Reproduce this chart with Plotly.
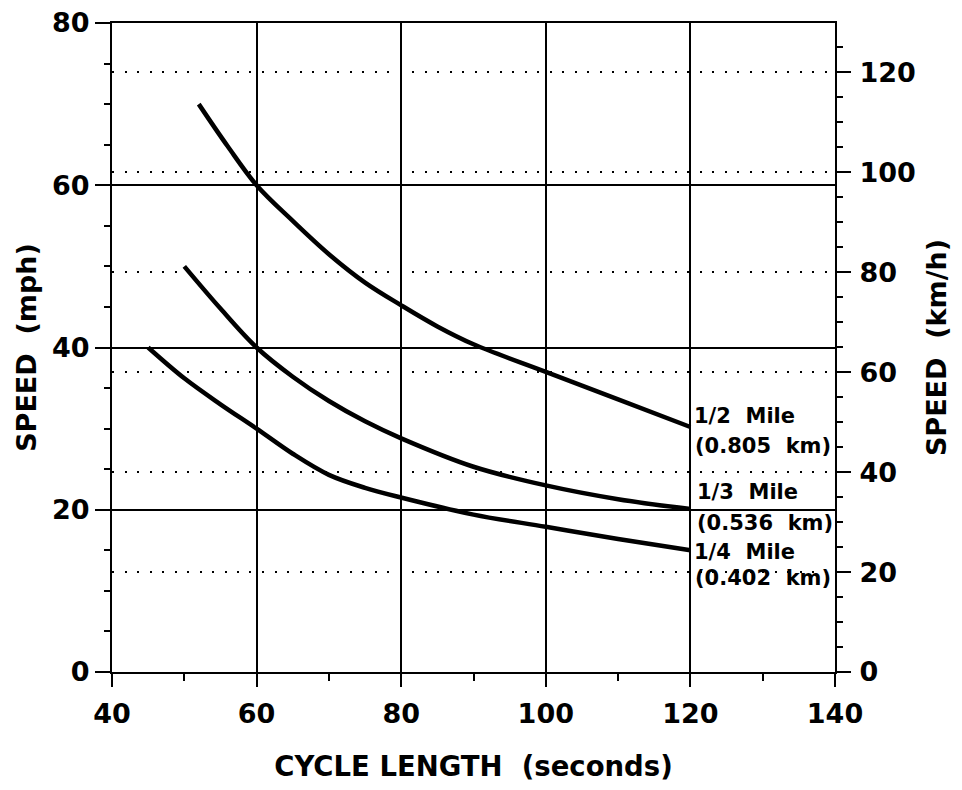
import plotly.graph_objects as go

# Data
cycle_half = [52, 56, 60, 65, 70, 75, 80, 85, 90, 100, 110, 120]
speed_half = [70, 64.8, 60, 55.6, 51.5, 48.0, 45.2, 42.6, 40.4, 37.0, 33.6, 30.2]

cycle_third = [50, 55, 60, 65, 70, 75, 80, 90, 100, 110, 120]
speed_third = [50, 44.8, 40, 36.4, 33.4, 30.9, 28.8, 25.3, 23.0, 21.3, 20.1]

cycle_quarter = [45, 50, 55, 60, 65, 70, 75, 80, 90, 100, 110, 120]
speed_quarter = [40, 36.2, 33.0, 30, 26.9, 24.3, 22.7, 21.5, 19.4, 17.9, 16.4, 15.0]

label_lines = ["1/2\u00a0 Mile", "(0.805\u00a0 km)",
               "1/3\u00a0 Mile", "(0.536\u00a0 km)",
               "1/4\u00a0 Mile", "(0.402\u00a0 km)"]
label_y = [31.6, 27.9, 22.2, 18.4, 14.8, 11.6]
label_x = [120.2, 120.3, 120.7, 120.7, 120.2, 120.3]

FONT = "DejaVu Sans"

fig = go.Figure()
for xs, ys in [(cycle_half, speed_half), (cycle_third, speed_third), (cycle_quarter, speed_quarter)]:
    fig.add_trace(go.Scatter(x=xs, y=ys, mode="lines",
                             line=dict(color="black", width=4.5, shape="spline", smoothing=1.0),
                             showlegend=False, hoverinfo="skip"))

# invisible trace to activate the right axis
fig.add_trace(go.Scatter(x=[40], y=[0], yaxis="y2", mode="markers",
                         marker=dict(opacity=0), showlegend=False, hoverinfo="skip"))

for t, xx, yy in zip(label_lines, label_x, label_y):
    fig.add_annotation(x=xx, y=yy, text=t, showarrow=False, xanchor="left", yanchor="middle",
                       font=dict(family=FONT, size=21, color="black", weight="bold"))

fig.update_layout(
    width=962, height=790,
    margin=dict(l=112, r=127, t=23, b=118),
    paper_bgcolor="white", plot_bgcolor="white",
    font=dict(family=FONT, color="black", weight="bold"),
    xaxis=dict(range=[40, 140], dtick=20, tick0=40, automargin=False,
               showgrid=True, gridcolor="black", gridwidth=1.5,
               showline=True, linecolor="black", linewidth=2, mirror=True,
               ticks="outside", ticklen=13, tickwidth=1.5, tickcolor="black",
               minor=dict(dtick=10, ticks="outside", ticklen=7, tickwidth=1.5, tickcolor="black", showgrid=False),
               tickfont=dict(family=FONT, size=27, weight="bold"),
               ticklabelstandoff=4,
               zeroline=False,
               title=dict(text="CYCLE LENGTH\u00a0 (seconds)", font=dict(family=FONT, size=27.5, weight="bold"), standoff=28)),
    yaxis=dict(range=[0, 80], dtick=20, automargin=False,
               showgrid=True, gridcolor="black", gridwidth=1.5,
               showline=True, linecolor="black", linewidth=2,
               ticks="outside", ticklen=15, tickwidth=1.5, tickcolor="black",
               minor=dict(dtick=5, ticks="outside", ticklen=6, tickwidth=1.5, tickcolor="black", showgrid=False),
               tickfont=dict(family=FONT, size=27, weight="bold"),
               zeroline=False,
               title=dict(text="SPEED\u00a0 (mph)", font=dict(family=FONT, size=27, weight="bold"), standoff=8)),
    yaxis2=dict(range=[0, 129.9], dtick=20, overlaying="y", side="right", automargin=False,
                showgrid=True, gridcolor="black", gridwidth=2, griddash="2px,10.5px",
                showline=True, linecolor="black", linewidth=2,
                ticks="outside", ticklen=14, tickwidth=1.5, tickcolor="black",
                minor=dict(dtick=5, ticks="outside", ticklen=6, tickwidth=1.5, tickcolor="black", showgrid=False),
                tickfont=dict(family=FONT, size=27, weight="bold"),
                ticklabelstandoff=3,
                zeroline=False,
                title=dict(text="SPEED\u00a0 (km/h)", font=dict(family=FONT, size=27, weight="bold"), standoff=12)),
)

fig.write_html("out.html")
